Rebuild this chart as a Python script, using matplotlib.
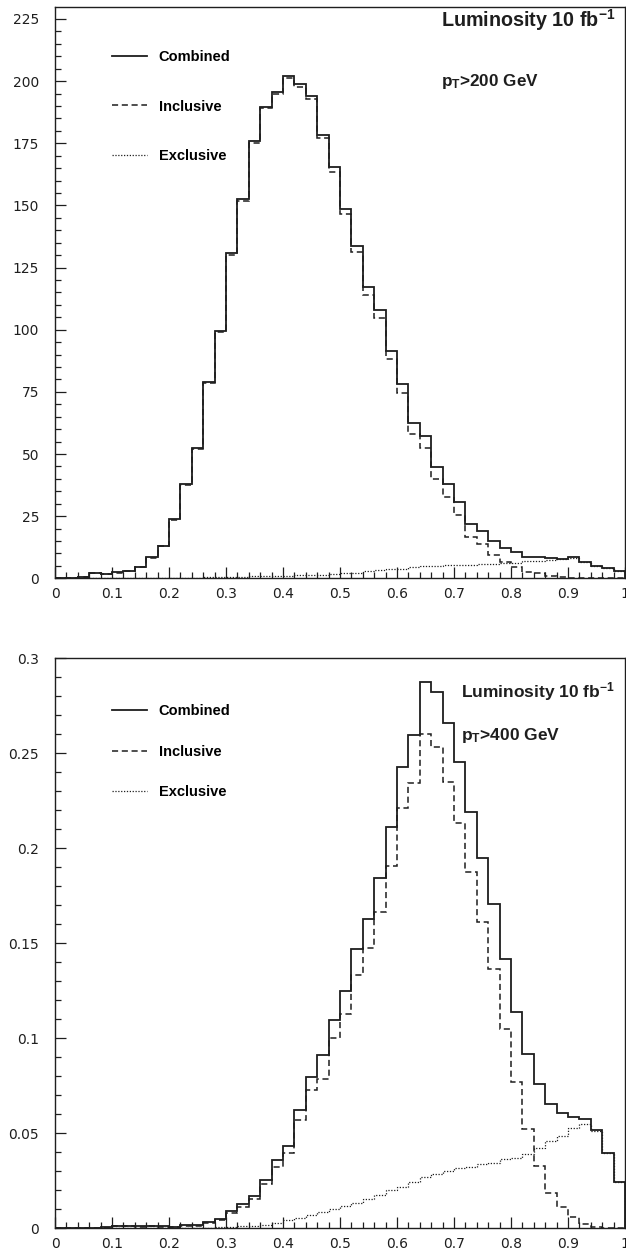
#!/usr/bin/env python3
"""Two stacked 1D histograms (combined / inclusive / exclusive), ROOT-like style."""

import numpy as np
import matplotlib
matplotlib.use('Agg')
import matplotlib.pyplot as plt
from matplotlib.ticker import MultipleLocator, FuncFormatter

# 50 bins of width 0.02 from 0 to 1
bin_edges = np.arange(51) * 0.02

# upper panel: pT > 200 GeV
top_combined = [0, 0, 0.7, 2.0, 1.8,
                2.4, 3.1, 4.7, 8.4, 13.1,
                23.7, 37.8, 52.5, 79.1, 99.5,
                130.7, 152.5, 176.0, 189.7, 195.7,
                202.2, 198.7, 194.1, 178.3, 165.6,
                148.4, 133.8, 117.0, 108.0, 91.6,
                78.3, 62.6, 57.1, 44.9, 37.8,
                30.8, 22.0, 18.9, 15.0, 12.3,
                10.7, 8.7, 8.7, 8.3, 7.9,
                8.4, 6.7, 5.1, 4.1, 2.8]
top_inclusive = [0, 0, 0.7, 2.0, 1.8,
                 2.3, 3.0, 4.6, 8.2, 12.9,
                 23.4, 37.5, 52.1, 78.6, 99.0,
                 130.0, 151.8, 175.3, 189.0, 194.8,
                 201.3, 197.6, 192.8, 177.0, 163.6,
                 146.6, 131.4, 114.0, 104.6, 88.1,
                 74.4, 58.0, 52.5, 39.9, 32.6,
                 25.5, 16.7, 13.7, 9.4, 6.7,
                 4.4, 2.7, 2.0, 0.9, 0.5,
                 0.3, 0.2, 0.1, 0.0, 0.0]
top_exclusive = [0, 0, 0, 0, 0,
                 0, 0, 0.1, 0.1, 0.2,
                 0.2, 0.3, 0.3, 0.4, 0.5,
                 0.6, 0.7, 0.8, 0.9, 1.0,
                 1.1, 1.2, 1.4, 1.5, 1.7,
                 2.0, 2.3, 2.8, 3.3, 3.6,
                 3.9, 4.5, 4.8, 5.0, 5.2,
                 5.3, 5.5, 5.6, 5.8, 6.0,
                 6.3, 6.8, 7.0, 7.4, 7.6,
                 8.1, 6.6, 5.0, 4.1, 2.8]

# lower panel: pT > 400 GeV
bot_combined = [0, 0, 0, 0.0003, 0.0005,
                0.0014, 0.0012, 0.0010, 0.0014, 0.0010,
                0.0008, 0.0017, 0.0017, 0.0031, 0.0051,
                0.0091, 0.0126, 0.0168, 0.0254, 0.0358,
                0.0435, 0.0623, 0.0798, 0.0912, 0.1096,
                0.1249, 0.1468, 0.1626, 0.1842, 0.2114,
                0.2429, 0.2596, 0.2877, 0.2821, 0.2658,
                0.2453, 0.2189, 0.1947, 0.1705, 0.1416,
                0.1140, 0.0917, 0.0759, 0.0652, 0.0605,
                0.0587, 0.0574, 0.0517, 0.0395, 0.0245]
bot_inclusive = [0, 0, 0, 0.0002, 0.0004,
                 0.0011, 0.0010, 0.0008, 0.0011, 0.0008,
                 0.0006, 0.0014, 0.0014, 0.0027, 0.0044,
                 0.0079, 0.0111, 0.0152, 0.0233, 0.0321,
                 0.0398, 0.0570, 0.0728, 0.0786, 0.1000,
                 0.1128, 0.1333, 0.1474, 0.1666, 0.1909,
                 0.2214, 0.2342, 0.2600, 0.2532, 0.2351,
                 0.2135, 0.1874, 0.1610, 0.1363, 0.1049,
                 0.0768, 0.0523, 0.0330, 0.0187, 0.0110,
                 0.0058, 0.0023, 0.0008, 0.0004, 0.0002]
bot_exclusive = [0, 0, 0, 0.0001, 0.0001,
                 0.0003, 0.0002, 0.0002, 0.0003, 0.0002,
                 0.0002, 0.0003, 0.0003, 0.0004, 0.0006,
                 0.0009, 0.0012, 0.0015, 0.0020, 0.0028,
                 0.0044, 0.0056, 0.0070, 0.0088, 0.0100,
                 0.0117, 0.0132, 0.0153, 0.0175, 0.0202,
                 0.0219, 0.0245, 0.0272, 0.0286, 0.0303,
                 0.0316, 0.0324, 0.0337, 0.0345, 0.0363,
                 0.0368, 0.0390, 0.0421, 0.0461, 0.0487,
                 0.0526, 0.0549, 0.0514, 0.0395, 0.0245]

series_labels = ['Combined', 'Inclusive', 'Exclusive']
lumi_text = 'Luminosity 10 fb$^{-1}$'

plt.rcParams['font.family'] = ['Liberation Sans', 'DejaVu Sans']
plt.rcParams['mathtext.fontset'] = 'custom'
plt.rcParams['mathtext.rm'] = 'Liberation Sans:bold'
plt.rcParams['mathtext.it'] = 'Liberation Sans:bold'
plt.rcParams['mathtext.bf'] = 'Liberation Sans:bold'
plt.rcParams['mathtext.default'] = 'bf'

INK = '#1e1e1e'
STYLES = [dict(linestyle='-', linewidth=1.3),
          dict(linestyle=(0, (4, 2.4)), linewidth=1.1),
          dict(linestyle=(0, (1, 1.3)), linewidth=0.9)]


def draw_panel(ax, series, ymax, ymajor, yminor, cut_text, legend_top, legend_spacing,
               text_x, lumi_y, cut_y, lumi_size, cut_size):
    handles = []
    for vals, label, st in zip(series, series_labels, STYLES):
        h = ax.stairs(vals, bin_edges, color=INK, label=label, **st)
        handles.append(h)

    ax.set_xlim(0, 1)
    ax.set_ylim(0, ymax)
    ax.xaxis.set_major_locator(MultipleLocator(0.1))
    ax.xaxis.set_minor_locator(MultipleLocator(0.02))
    ax.yaxis.set_major_locator(MultipleLocator(ymajor))
    ax.yaxis.set_minor_locator(MultipleLocator(yminor))
    fmt = FuncFormatter(lambda v, pos: f'{v:g}')
    ax.xaxis.set_major_formatter(fmt)
    ax.yaxis.set_major_formatter(fmt)
    ax.tick_params(which='both', direction='in', top=False, right=False,
                   colors=INK, width=0.9)
    ax.tick_params(which='major', length=8)
    ax.tick_params(which='minor', length=4.5)
    ax.tick_params(axis='x', which='major', pad=6)
    ax.tick_params(axis='y', which='major', pad=11.5)
    for lab in ax.get_xticklabels() + ax.get_yticklabels():
        lab.set_fontfamily('DejaVu Sans')
        lab.set_fontsize(10)
    for sp in ax.spines.values():
        sp.set_color(INK)
        sp.set_linewidth(1.0)

    ax.legend(handles=handles, loc='upper left', bbox_to_anchor=(0.1, legend_top),
              frameon=False, borderpad=0, borderaxespad=0, handlelength=2.4,
              handletextpad=0.8, labelspacing=legend_spacing,
              prop={'weight': 'bold', 'size': 10.5})

    ax.text(text_x, lumi_y, lumi_text, transform=ax.transAxes, ha='left', va='center',
            fontsize=lumi_size, fontweight='bold', color=INK)
    ax.text(text_x, cut_y, cut_text, transform=ax.transAxes, ha='left', va='center',
            fontsize=cut_size, fontweight='bold', color=INK)


fig = plt.figure(figsize=(6.26, 12.51), dpi=100)
ax_top = fig.add_axes([0.0879, 0.5377, 0.9105, 0.4567])
ax_bot = fig.add_axes([0.0879, 0.0181, 0.9105, 0.4557])

draw_panel(ax_top, [top_combined, top_inclusive, top_exclusive], 229.8, 25, 5,
           r'$p_T$>200 GeV', 0.925, 2.45, 0.677, 0.977, 0.870, 14.2, 12.3)
draw_panel(ax_bot, [bot_combined, bot_inclusive, bot_exclusive], 0.3, 0.05, 0.01,
           r'$p_T$>400 GeV', 0.919, 1.8, 0.713, 0.941, 0.864, 12.5, 12.5)

fig.savefig('out.png', dpi=100)
